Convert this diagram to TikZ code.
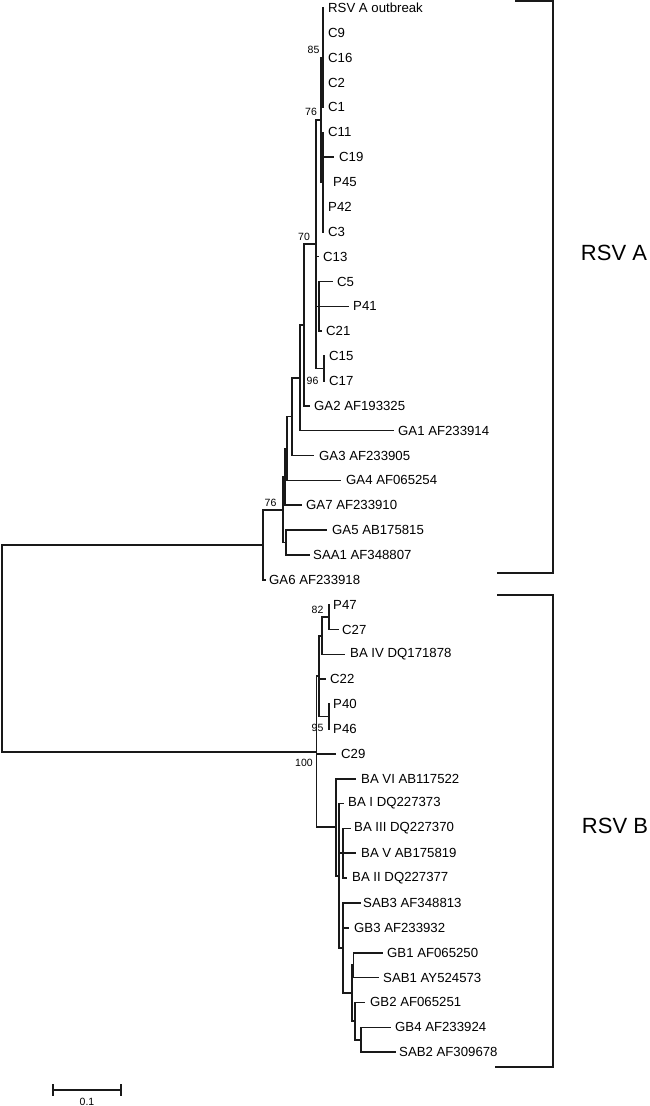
\documentclass[tikz,border=0pt]{standalone}
\usepackage{fontspec}
\setmainfont{Liberation Sans}
\tikzset{
  br/.style={line width=1.6pt, line cap=rect, line join=miter, draw=black!90},
  brk/.style={line width=2.2pt, line join=miter, draw=black!90},
  lbl/.style={anchor=west, inner sep=0pt, font=\fontsize{13.2}{14}\selectfont},
  bs/.style={inner sep=0pt, font=\fontsize{10.5}{12}\selectfont},
  clade/.style={inner sep=0pt, font=\fontsize{22}{24}\selectfont}
}
\newcommand\lf[5]{\coordinate (#1) at (#2,#3); \node[lbl] (#1l) at (#4,#3) {#5};}
\newcommand\ed[2]{\foreach \xx in {#2} {\draw[br] (#1) |- (\xx);}}
\begin{document}
\begin{tikzpicture}[x=1pt,y=-1pt]
\useasboundingbox (0,0) rectangle (650,1106);
\fill[white] (0,0) rectangle (650,1106);
% leaves
\lf{t0}{323}{8.0}{328}{RSV A outbreak}
\lf{t1}{323}{32.9}{328}{C9}
\lf{t2}{323}{57.7}{328}{C16}
\lf{t3}{323}{82.6}{328}{C2}
\lf{t4}{323}{107.4}{328}{C1}
\lf{t5}{323}{132.3}{328}{C11}
\lf{t6}{333}{157.2}{339}{C19}
\lf{t7}{323}{182.0}{333}{P45}
\lf{t8}{323}{206.9}{328}{P42}
\lf{t9}{323}{231.7}{328}{C3}
\lf{t10}{318}{256.6}{323}{C13}
\lf{t11}{332}{281.5}{337}{C5}
\lf{t12}{348}{306.3}{353}{P41}
\lf{t13}{321}{331.2}{326}{C21}
\lf{t14}{324}{356.0}{329}{C15}
\lf{t15}{324}{380.9}{329}{C17}
\lf{t16}{309}{405.8}{314}{GA2 AF193325}
\lf{t17}{393}{430.6}{398}{GA1 AF233914}
\lf{t18}{313}{455.5}{319}{GA3 AF233905}
\lf{t19}{340}{480.3}{346}{GA4 AF065254}
\lf{t20}{301}{505.2}{306}{GA7 AF233910}
\lf{t21}{326}{530.1}{332}{GA5 AB175815}
\lf{t22}{309}{554.9}{313}{SAA1 AF348807}
\lf{t23}{265}{579.8}{269}{GA6 AF233918}
\lf{t24}{329}{604.6}{333}{P47}
\lf{t25}{338}{629.5}{342}{C27}
\lf{t26}{344}{654.4}{350}{BA IV DQ171878}
\lf{t27}{325}{679.2}{330}{C22}
\lf{t28}{329}{704.1}{333}{P40}
\lf{t29}{329}{728.9}{333}{P46}
\lf{t30}{335}{753.8}{341}{C29}
\lf{t31}{355}{778.7}{361}{BA VI AB117522}
\lf{t32}{343}{803.5}{348}{BA I DQ227373}
\lf{t33}{350}{828.4}{354}{BA III DQ227370}
\lf{t34}{355}{853.2}{361}{BA V AB175819}
\lf{t35}{346}{878.1}{352}{BA II DQ227377}
\lf{t36}{360}{903.0}{363}{SAB3 AF348813}
\lf{t37}{348}{927.8}{354}{GB3 AF233932}
\lf{t38}{382}{952.7}{387}{GB1 AF065250}
\lf{t39}{378}{977.5}{383}{SAB1 AY524573}
\lf{t40}{364}{1002.4}{370}{GB2 AF065251}
\lf{t41}{390}{1027.3}{395}{GB4 AF233924}
\lf{t42}{395}{1052.1}{399}{SAB2 AF309678}
% internal nodes
\coordinate (Na) at (323,57.7);
\coordinate (Nb) at (323,182.0);
\coordinate (N76) at (321,119.9);
\coordinate (Nc) at (319,306.3);
\coordinate (Nd) at (324,368.5);
\coordinate (N70) at (316,244.2);
\coordinate (Y) at (304,325.0);
\coordinate (Z) at (300,377.8);
\coordinate (W) at (292,416.6);
\coordinate (T) at (287,448.5);
\coordinate (U) at (285,476.8);
\coordinate (S) at (286,542.5);
\coordinate (V) at (283,509.7);
\coordinate (A) at (263,544.7);
\coordinate (P) at (329,617.0);
\coordinate (Q) at (322,635.7);
\coordinate (Pp) at (329,716.5);
\coordinate (R) at (319,676.1);
\coordinate (D) at (353.5,965.1);
\coordinate (F) at (361,1039.7);
\coordinate (E) at (355,1021.0);
\coordinate (G) at (352,993.0);
\coordinate (H) at (343,948.0);
\coordinate (L) at (343,853.2);
\coordinate (K) at (339,875.8);
\coordinate (M) at (336,827.2);
\coordinate (B) at (316.5,751.7);
\coordinate (root) at (2,648.2);
% edges
\ed{Na}{t0,t1,t2,t3,t4}
\ed{Nb}{t5,t6,t7,t8,t9}
\ed{N76}{Na,Nb}
\ed{Nc}{t11,t12,t13}
\ed{Nd}{t14,t15}
\ed{N70}{N76,t10,Nc,Nd}
\ed{Y}{N70,t16}
\ed{Z}{Y,t17}
\ed{W}{Z,t18}
\ed{T}{W,t19}
\ed{U}{T,t20}
\ed{S}{t21,t22}
\ed{V}{U,S}
\ed{A}{V,t23}
\ed{P}{t24,t25}
\ed{Q}{P,t26}
\ed{Pp}{t28,t29}
\ed{R}{Q,t27,Pp}
\ed{D}{t38,t39}
\ed{F}{t41,t42}
\ed{E}{t40,F}
\ed{G}{D,E}
\ed{H}{t36,t37,G}
\ed{L}{t33,t34,t35}
\ed{K}{t32,L,H}
\ed{M}{t31,K}
\ed{B}{R,t30,M}
\ed{root}{A,B}
% bootstrap values
\node[bs] (b85) at (313.5,50) {85};
\node[bs] (b76a) at (311,112) {76};
\node[bs] (b70) at (304,237) {70};
\node[bs] (b96) at (312.5,381) {96};
\node[bs] (b76b) at (270.5,503) {76};
\node[bs] (b82) at (317.5,610) {82};
\node[bs] (b95) at (317.5,728) {95};
\node[bs] (b100) at (304,763) {100};
% clade brackets
\coordinate (a1) at (515,1.2);
\coordinate (a2) at (553,1.2);
\coordinate (a3) at (553,573);
\coordinate (a4) at (497,573);
\draw[brk] (a1) -- (a2) -- (a3) -- (a4);
\coordinate (c1) at (497,595);
\coordinate (c2) at (553,595);
\coordinate (c3) at (553,1067);
\coordinate (c4) at (495,1067);
\draw[brk] (c1) -- (c2) -- (c3) -- (c4);
\node[clade] (ca) at (614,253) {RSV A};
\node[clade] (cb) at (615,826) {RSV B};
% scale bar
\coordinate (s1) at (53,1090);
\coordinate (s2) at (121,1090);
\draw[br] (s1) -- (s2);
\draw[br] ([yshift=5pt]s1) -- ([yshift=-5pt]s1);
\draw[br] ([yshift=5pt]s2) -- ([yshift=-5pt]s2);
\node[bs] (sl) at (87,1102) {0.1};
\end{tikzpicture}
\end{document}
